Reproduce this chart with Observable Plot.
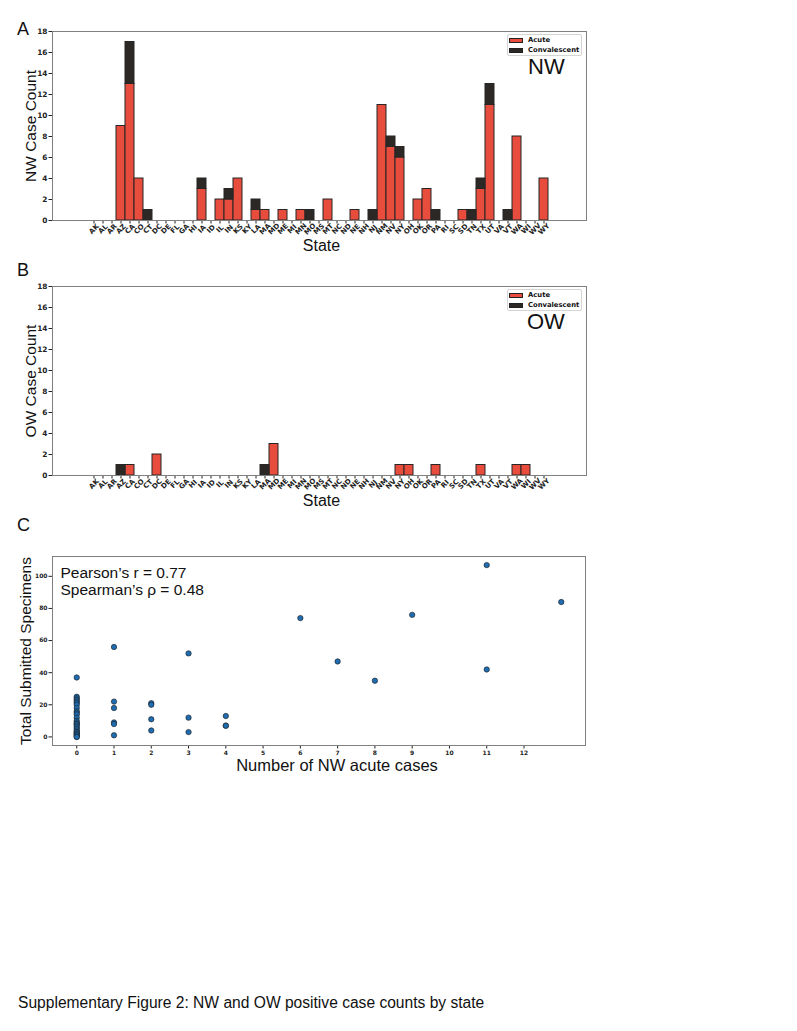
<!DOCTYPE html>
<html>
<head>
<meta charset="utf-8">
<script src="https://cdn.jsdelivr.net/npm/d3@7"></script>
<script src="https://cdn.jsdelivr.net/npm/@observablehq/plot@0.6"></script>
<style>
  body { margin: 0; background: #fff; }
  #page { position: relative; width: 797px; height: 1031px; overflow: hidden; font-family: "Liberation Sans", Arial, sans-serif; color: #111; }
  .panel { position: absolute; left: 0; }
  .txt { position: absolute; line-height: 1; white-space: nowrap; }
  .legend { position: absolute; width: 75px; height: 22px; border: 1px solid #d4d4d4; border-radius: 2px; background: #fff; box-sizing: border-box; }
  .patch { position: absolute; left: 1px; width: 14px; height: 5px; box-sizing: border-box; border: 0.8px solid #222; }
  .ltext { position: absolute; left: 20px; font-family: "DejaVu Sans", sans-serif; font-weight: bold; font-size: 6.8px; line-height: 1; }
</style>
</head>
<body>
<div id="page"></div>
<script>
// ---------- data ----------
const states = ["AK","AL","AR","AZ","CA","CO","CT","DC","DE","FL","GA","HI","IA","ID","IL","IN","KS","KY","LA","MA","MD","ME","MI","MN","MO","MS","MT","NC","ND","NE","NH","NJ","NM","NV","NY","OH","OK","OR","PA","RI","SC","SD","TN","TX","UT","VA","VT","WA","WI","WV","WY"];
const types = ["Acute", "Convalescent"];
const typeColors = ["#e74c3c", "#2b2826"];

const nwAcute = [0,0,0,9,13,4,0,0,0,0, 0,0,3,0,2,2,4,0,1,1, 0,1,0,1,0,0,2,0,0,1, 0,0,11,7,6,0,2,3,0,0, 0,1,0,3,11,0,0,8,0,0, 4];
const nwConv  = [0,0,0,0,4,0,1,0,0,0, 0,0,1,0,0,1,0,0,1,0, 0,0,0,0,1,0,0,0,0,0, 0,1,0,1,1,0,0,0,1,0, 0,0,1,1,2,0,1,0,0,0, 0];
const owAcute = [0,0,0,0,1,0,0,2,0,0, 0,0,0,0,0,0,0,0,0,0, 3,0,0,0,0,0,0,0,0,0, 0,0,0,0,1,1,0,0,1,0, 0,0,0,1,0,0,0,1,1,0, 0];
const owConv  = [0,0,0,1,0,0,0,0,0,0, 0,0,0,0,0,0,0,0,0,1, 0,0,0,0,0,0,0,0,0,0, 0,0,0,0,0,0,0,0,0,0, 0,0,0,0,0,0,0,0,0,0, 0];
const countTicks = [0,2,4,6,8,10,12,14,16,18];

const scatterCases = [0,0,0,0,0,0,0,0,0,0,0,0,0,0,0,0,0,0,0,0,0,0,0,0,0,0,0,0,
                      1,1,1,1,1,1, 2,2,2,2, 3,3,3, 4,4,4, 6, 7, 8, 9, 11,11, 13];
const scatterSpecimens = [37,25,24,23,22,21,20,18,16,15,14,12,10,9,8,8,7,6,5,4,3,3,2,2,1,1,0,0,
                      56,22,18,9,8,1, 21,20,11,4, 52,12,3, 13,7,7, 74, 47, 35, 76, 107,42, 84];
const casesTicks = [0,1,2,3,4,5,6,7,8,9,10,11,12];
const specimenTicks = [0,20,40,60,80,100];
const statsText = "Pearson\u2019s r = 0.77\nSpearman\u2019s \u03c1 = 0.48";

// ---------- helpers ----------
const page = document.getElementById("page");
function addText(text, x, baseline, size, extra = {}) {
  const d = document.createElement("div");
  d.className = "txt";
  d.textContent = text;
  d.style.fontSize = size + "px";
  d.style.left = x + "px";
  d.style.top = (baseline - 0.8465 * size) + "px";
  Object.assign(d.style, extra);
  page.appendChild(d);
  return d;
}
function addLegend(top) {
  const lg = document.createElement("div");
  lg.className = "legend";
  lg.style.left = "507px";
  lg.style.top = top + "px";
  types.forEach((t, i) => {
    const p = document.createElement("div");
    p.className = "patch";
    p.style.top = (3.3 + 10 * i) + "px";
    p.style.background = typeColors[i];
    lg.appendChild(p);
    const l = document.createElement("div");
    l.className = "ltext";
    l.textContent = t;
    l.style.top = (2.4 + 10 * i) + "px";
    lg.appendChild(l);
  });
  page.appendChild(lg);
}
function rowsFrom(acute, conv) {
  const rows = [];
  states.forEach((s, i) => { if (acute[i] > 0) rows.push({state: s, type: "Acute", count: acute[i]}); });
  states.forEach((s, i) => { if (conv[i] > 0) rows.push({state: s, type: "Convalescent", count: conv[i]}); });
  return rows;
}
const labelFont = {fontFamily: "Liberation Sans", fontWeight: "normal", fill: "#111", textAnchor: "middle", lineAnchor: "middle"};

function barPanel(acute, conv, ylabel, top) {
  const chart = Plot.plot({
    width: 797, height: 255,
    marginLeft: 52, marginRight: 211, marginTop: 31, marginBottom: 35,
    style: {background: "transparent", fontFamily: "DejaVu Sans", fontWeight: "bold", fontSize: "7.4px", color: "#222"},
    x: {type: "band", domain: states, paddingInner: 0, paddingOuter: 2.62, align: 0.49},
    y: {domain: [0, 18]},
    color: {domain: types, range: typeColors},
    marks: [
      Plot.barY(rowsFrom(acute, conv), {x: "state", y: "count", fill: "type", stroke: "#262626", strokeWidth: 1}),
      Plot.axisX({tickSize: 3.5, tickFormat: () => "", label: null}),
      Plot.text(states, {x: d => d, frameAnchor: "bottom", dy: 8.5, rotate: -45, textAnchor: "middle", lineAnchor: "middle", fontSize: 7, fontWeight: "bold", fill: "#222"}),
      Plot.axisY({ticks: countTicks, tickSize: 3.5, tickPadding: 1.5, label: null}),
      Plot.frame({stroke: "#808080", strokeWidth: 1}),
      Plot.text([ylabel], {frameAnchor: "left", dx: -21, rotate: -90, fontSize: 15.5, ...labelFont}),
      Plot.text(["State"], {frameAnchor: "bottom", dx: 2, dy: 25, fontSize: 16, ...labelFont})
    ]
  });
  chart.classList.add("panel");
  chart.style.top = top + "px";
  page.appendChild(chart);
}

barPanel(nwAcute, nwConv, "NW Case Count", 0);
barPanel(owAcute, owConv, "OW Case Count", 255);

// scatter
const scatter = scatterCases.map((c, i) => ({cases: c, specimens: scatterSpecimens[i]}));
const chartC = Plot.plot({
  width: 797, height: 275,
  marginLeft: 52, marginRight: 212, marginTop: 46, marginBottom: 40,
  style: {background: "transparent", fontFamily: "DejaVu Sans", fontWeight: "bold", fontSize: "6px", color: "#222"},
  x: {domain: [-0.65, 13.65]},
  y: {domain: [-5.35, 112.35]},
  marks: [
    Plot.axisX({ticks: casesTicks, tickSize: 3.5, tickPadding: 2, label: null}),
    Plot.axisY({ticks: specimenTicks, tickSize: 3.5, tickPadding: 1.5, label: null}),
    Plot.frame({stroke: "#808080", strokeWidth: 1}),
    Plot.dot(scatter, {x: "cases", y: "specimens", r: 2.7, fill: "#1f6db0", stroke: "#1a1a1a", strokeWidth: 0.6}),
    Plot.text([statsText], {frameAnchor: "top-left", dx: 8, dy: 9, lineAnchor: "top", textAnchor: "start", lineHeight: 1.12, fontSize: 15.5, fontFamily: "Liberation Sans", fontWeight: "normal", fill: "#111"}),
    Plot.text(["Total Submitted Specimens"], {frameAnchor: "left", dx: -26, rotate: -90, fontSize: 15.5, ...labelFont}),
    Plot.text(["Number of NW acute cases"], {frameAnchor: "bottom", dx: 18, dy: 20, fontSize: 16.5, ...labelFont})
  ]
});
chartC.classList.add("panel");
chartC.style.top = "510px";
page.appendChild(chartC);

// legends, panel letters, insets, caption
addLegend(34);
addLegend(289);
addText("NW", 528, 75, 22);
addText("OW", 527, 330, 22);
addText("A", 17, 35, 18);
addText("B", 17, 276, 18);
addText("C", 17, 531, 18);
addText("Supplementary Figure 2: NW and OW positive case counts by state", 18, 1008, 15.6);
</script>
</body>
</html>
